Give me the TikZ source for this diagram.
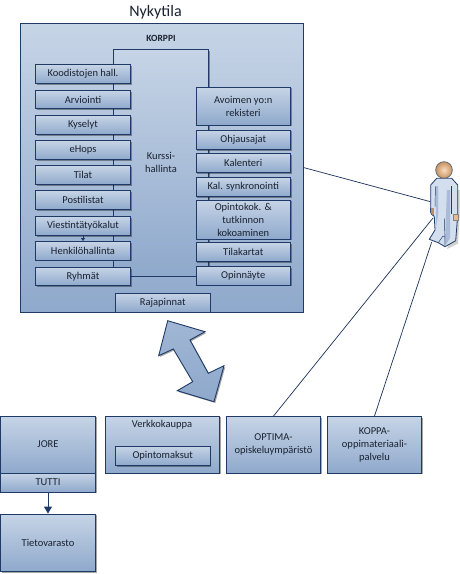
\documentclass[tikz,border=0pt]{standalone}
\usepackage{fontspec}
\setmainfont{Carlito}
\usetikzlibrary{shadows,arrows.meta}
\definecolor{edge}{HTML}{1F3A66}
\definecolor{topc}{HTML}{C6D4E6}
\definecolor{botc}{HTML}{8FA9CC}
\definecolor{txt}{HTML}{1A2230}
\definecolor{skin}{HTML}{F6CDA6}
\definecolor{skind}{HTML}{C9935F}
\definecolor{suit}{HTML}{D3DEEE}
\definecolor{suitd}{HTML}{A9BBD6}
\tikzset{
  x=1pt,y=-1pt,
  boxbase/.style={draw=edge,line width=0.9pt,top color=topc,bottom color=botc,text=txt,inner sep=0pt,align=center,
     font=\fontsize{10.5}{13}\selectfont,
     general shadow={shadow xshift=1.3pt,shadow yshift=-1.3pt,fill=black,opacity=.35}},
  link/.style={draw=edge!85!black,line width=0.7pt},
  flowarrow/.style={draw=edge,line width=1pt,-{Triangle[length=7pt,width=8pt]}},
}
% \bx{name}{x1}{y1}{x2}{y2}{text}
\newcommand{\bx}[6]{%
  \pgfmathsetmacro{\cxx}{(#2+#4)/2}%
  \pgfmathsetmacro{\cyy}{(#3+#5)/2}%
  \pgfmathsetmacro{\wdd}{#4-#2}%
  \pgfmathsetmacro{\htt}{#5-#3}%
  \node[boxbase,minimum width=\wdd pt,minimum height=\htt pt] (#1) at (\cxx,\cyy) {#6};}
\begin{document}
\begin{tikzpicture}
\useasboundingbox[fill=white] (0,0) rectangle (460,574);
\node[font=\fontsize{16}{18}\selectfont,text=txt] (title) at (155.5,12) {Nykytila};
% main box
\bx{outer}{20.5}{23}{303}{312}{}
\node[font=\bfseries\fontsize{9.5}{11}\selectfont,text=txt] (korppi) at (161,38.5) {KORPPI};
\bx{kurssi}{113.5}{49.5}{208.5}{276}{Kurssi-\\hallinta}
% left column
\bx{a1}{35.5}{64.5}{130.5}{83.5}{Koodistojen hall.}
\bx{a2}{35.5}{90.5}{130.5}{108.5}{Arviointi}
\bx{a3}{35.5}{115.5}{130.5}{134.5}{Kyselyt}
\bx{a4}{35.5}{140.5}{130.5}{159.5}{eHops}
\bx{a5}{35.5}{165.5}{130.5}{184.5}{Tilat}
\bx{a6}{35.5}{190.5}{130.5}{209.5}{Postilistat}
\bx{a7}{35.5}{216.5}{130.5}{235.5}{Viestintätyökalut}
\bx{a8}{35.5}{241.5}{130.5}{260}{Henkilöhallinta}
\bx{a9}{35.5}{267.5}{130.5}{285.5}{Ryhmät}
\draw[draw=edge,line width=0.8pt,-{Triangle[length=3pt,width=4pt]}] (a7) -- (a8);
% right column
\bx{b1}{196}{87}{290.5}{125}{Avoimen yo:n\\rekisteri}
\bx{b2}{196}{130}{290.5}{149.5}{Ohjausajat}
\bx{b3}{196}{153.5}{290.5}{172.5}{Kalenteri}
\bx{b4}{196}{177.5}{290.5}{196.5}{Kal. synkronointi}
\bx{b5}{196}{200}{290.5}{239}{Opintokok. \&\\tutkinnon\\kokoaminen}
\bx{b6}{196}{242.5}{290.5}{261.5}{Tilakartat}
\bx{b7}{196}{266.5}{290.5}{285}{Opinnäyte}
\bx{raja}{115.5}{293}{210}{312}{Rajapinnat}
% double arrow
\draw[draw=edge,line width=0.9pt,top color=botc!85!white,bottom color=botc,
  general shadow={shadow xshift=1.3pt,shadow yshift=-1.3pt,fill=black,opacity=.35}]
  (167.7,320.7) -- (205,331.7) -- (190,340) -- (208.3,373.3) -- (224,365.7) -- (214,401.7)
  -- (177.3,390.7) -- (192.7,381.7) -- (173.3,349) -- (158.7,355.7) -- cycle;
% bottom
\bx{jore}{0.5}{416}{95.5}{473}{JORE}
\bx{tutti}{0.5}{473}{95.5}{492}{TUTTI}
\bx{tieto}{0.5}{514}{95.5}{571.5}{Tietovarasto}
\draw[flowarrow] (tutti) -- (tieto);
\bx{verkko}{105.5}{416}{219.5}{473}{}
\node[font=\fontsize{10.5}{13}\selectfont,text=txt] (verkkot) at (162,425) {Verkkokauppa};
\bx{maksut}{115.5}{446}{210}{465.5}{Opintomaksut}
\bx{optima}{226.5}{416.5}{320.5}{473}{OPTIMA-\\opiskeluympäristö}
\bx{koppa}{327.5}{416.5}{421.5}{473}{KOPPA-\\oppimateriaali-\\palvelu}
% person
\coordinate (p1) at (430.5,201.7);
\coordinate (p2) at (433,218);
\coordinate (p3) at (431.7,242);
\draw[link] (outer.east) -- (p1);
\draw[link] (optima.north) -- (p2);
\draw[link] (koppa.north) -- (p3);
\begin{scope}[line join=round]
\fill[black,opacity=.18] (447,249) -- (458,243.5) -- (459.5,218) -- (459.5,190) -- (456,190) -- (450,240) -- cycle;
% body
\draw[edge,line width=0.8pt,fill=suit]
  (430.7,185) -- (436.7,178.3) -- (451.7,178.3) -- (457.7,185) -- (457.7,215)
  -- (455.7,240.7) -- (445,246.7) -- (438.3,242.7) -- (429.3,239.3) -- (435,230)
  -- (434.3,216.7) -- (430.7,211.7) -- cycle;
% shaded side of the legs and arm
\fill[suitd] (436,186) -- (438,186) -- (438,215) -- (436,228) -- cycle;
\fill[suitd] (447,190) -- (450,190) -- (450,238) -- (445.5,245.5) -- (445,240) -- cycle;
\draw[edge,line width=0.45pt] (435.5,186) -- (435,207);
\draw[edge,line width=0.45pt] (451.5,186) -- (451.5,214);
\draw[edge,line width=0.45pt] (444.5,218) -- (445,246.7);
\draw[edge,line width=0.45pt] (438.3,242.7) -- (443,236) -- (445,237);
% hands
\fill[skind!80!gray] (430.6,208) rectangle (434.4,215) ;
\draw[edge,line width=0.4pt] (430.6,208) -- (430.6,213) -- (433,216);
\draw[gray,line width=0.4pt,fill=skin!70!skind] (453,214.5) rectangle (458,220.5);
% head
\shade[inner color=skin!70!white,outer color=skind] (444,170) circle (8.3);
\draw[gray!70!edge,line width=0.8pt] (444,170) circle (8.3);
\end{scope}
\end{tikzpicture}
\end{document}
